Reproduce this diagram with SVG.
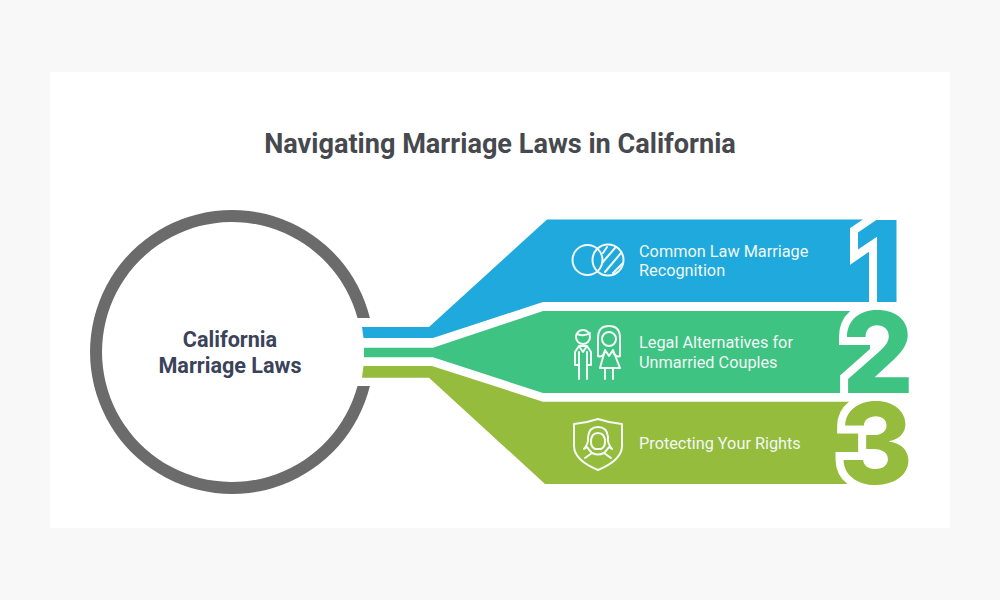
<svg xmlns="http://www.w3.org/2000/svg" width="1000" height="600" viewBox="0 0 1000 600">
<style>
text{font-family:Roboto,"Liberation Sans",sans-serif}
.title{font-size:27.1px;font-weight:700;fill:#46494d;text-anchor:middle}
.center{font-size:21.6px;font-weight:700;fill:#3a4359;text-anchor:middle}
.lab{font-size:16.3px;font-weight:400;fill:#f1f8f6}
.num{font-family:Inter,Roboto,sans-serif;font-size:113px;font-weight:800;text-anchor:end}
.halo{fill:#fff;stroke:#fff;stroke-width:16px;stroke-linejoin:miter;stroke-miterlimit:3}
.ic{fill:none;stroke:#f4faf7;stroke-width:2;stroke-linecap:round;stroke-linejoin:round}
</style>
<rect width="1000" height="600" fill="#f8f8f8"/>
<rect x="50" y="72" width="900" height="456" fill="#fff"/>
<text class="title" x="500" y="153">Navigating Marriage Laws in California</text>
<g id="hub">
<path d="M369.900 318A142 142 0 1 0 369.900 386H357.500A130 130 0 1 1 357.500 318Z" fill="#6b6b6b"/>
<text class="center" x="230" y="347">California</text>
<text class="center" x="230" y="373">Marriage Laws</text>
</g>
<g id="connectors">
<path id="band1" d="M362 327H429L547 219.500H897V302H543L433 338H363.500Z" fill="#1fa9dc"/>
<path id="band2" d="M364 347.700H433L543 311H870V393H543L433 357.300H364Z" fill="#3ec383"/>
<path id="band3" d="M363.500 366H432L543 401.700H870V484H545L429 377.700H362Z" fill="#95bc3c"/>
<use href="#d1" class="halo"/><use href="#d2" class="halo"/><use href="#d3" class="halo"/>
</g>
<g id="node1">
<g fill="#1fa9dc"><text id="d1" class="num" x="903" y="302">1</text></g>
<g class="ic">
<circle cx="587.500" cy="260" r="15"/><circle cx="608" cy="260" r="15.500"/>
<path d="M603 253L607 247M602 263L615 248M605 272L621 253M613 273L623 263"/>
</g>
<text class="lab" x="639" y="257">Common Law Marriage</text>
<text class="lab" x="639" y="276">Recognition</text>
</g>
<g id="node2">
<g fill="#3ec383"><text id="d2" class="num" x="914" y="393">2</text></g>
<g class="ic">
<circle cx="583" cy="337" r="7"/><path d="M577 334Q584 337 590 333"/>
<path d="M579 346L575 352V365H579M587 346L591 352V365H587M579 346H587L583 352ZM579 352V379M587 352V379"/>
<path d="M598 356V338Q598 326 609 326Q620 326 620 338V356Q616 358 613 352"/><path d="M598 356Q602 358 605 352"/><circle cx="609" cy="339" r="7"/>
<path d="M605 350L609 356L613 350L620 368H600ZM605 368V379M613 368V379"/>
</g>
<text class="lab" x="639" y="348">Legal Alternatives for</text>
<text class="lab" x="639" y="367.500">Unmarried Couples</text>
</g>
<g id="node3">
<g fill="#95bc3c"><text id="d3" class="num" x="913" y="484">3</text></g>
<g class="ic">
<path d="M574 424Q586 423 598 419Q610 423 622 424V446Q622 460 598 470Q574 460 574 446Z"/>
<path d="M585 458L592 453Q589 450 587 447L584 449Q589 443 588 437Q589 427 598 427Q607 427 608 437Q607 443 612 449L609 447Q607 450 604 453L611 458"/>
<path d="M592 453Q598 456 604 453M591 442Q591 433 598 433Q605 433 605 442Q605 447 601 449H595Q591 447 591 442"/>
</g>
<text class="lab" x="639" y="449">Protecting Your Rights</text>
</g>
</svg>
